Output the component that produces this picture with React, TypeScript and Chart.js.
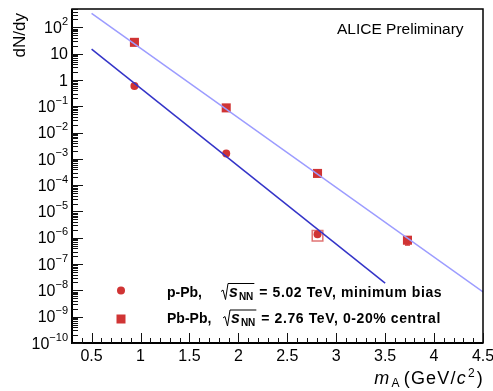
import React, { useEffect, useRef } from 'react';
import { Chart, registerables } from 'chart.js';

Chart.register(...registerables);

// ---- data ----
const particles = ['p', 'd', '3He', '4He'];
const masses = [0.938, 1.876, 2.809, 3.728];
const pPbYields = [0.59, 1.6e-3, 1.37e-6];
const pPbSysYield = [1.2e-6]; // open systematic box at 3He
const PbPbYields = [27, 0.087, 2.8e-4, 8.1e-7];
const PbPbErrLow = [null, null, null, 5.3e-7];
const fitPbPbX = [0.5, 4.5];
const fitPbPbY = [343, 8.7e-9];
const fitpPbX = [0.5, 3.5];
const fitpPbY = [14.8, 1.9e-8];
const xTickLabels = ['0.5', '1', '1.5', '2', '2.5', '3', '3.5', '4', '4.5'];
const yDecades = [-10, -9, -8, -7, -6, -5, -4, -3, -2, -1, 0, 1, 2];

const RED = '#d03434';
const FONT = '"Liberation Sans", Arial, Helvetica, sans-serif';

function drawSqrtS(ctx: CanvasRenderingContext2D, x: number, base: number) {
  ctx.save();
  ctx.font = `italic bold 16px ${FONT}`;
  const sw = ctx.measureText('s').width;
  ctx.font = `bold 10px ${FONT}`;
  const nw = ctx.measureText('NN').width;
  const top = base - 13;
  const end = x + 8 + sw + 1 + nw + 1;
  ctx.strokeStyle = '#000';
  ctx.lineWidth = 1;
  ctx.beginPath();
  ctx.moveTo(x, base - 5);
  ctx.lineTo(x + 2, base - 6.5);
  ctx.lineTo(x + 4.5, base + 3);
  ctx.lineTo(x + 7, top);
  ctx.lineTo(end, top);
  ctx.stroke();
  ctx.fillStyle = '#000';
  ctx.textAlign = 'left';
  ctx.textBaseline = 'alphabetic';
  ctx.font = `italic bold 16px ${FONT}`;
  ctx.fillText('s', x + 8, base);
  ctx.font = `bold 10px ${FONT}`;
  ctx.fillText('NN', x + 8 + sw + 1, base + 3);
  ctx.restore();
  return end;
}

const drawPlugin = {
  id: 'rootStyle',
  afterDatasetsDraw(chart: any) {
    const ctx: CanvasRenderingContext2D = chart.ctx;
    const xs = chart.scales.x;
    const ys = chart.scales.y;
    // error bars
    ctx.save();
    ctx.strokeStyle = RED;
    ctx.lineWidth = 1.5;
    PbPbErrLow.forEach((lo, i) => {
      if (lo == null) return;
      const px = xs.getPixelForValue(masses[i]);
      const py = ys.getPixelForValue(PbPbYields[i]);
      const pl = ys.getPixelForValue(lo);
      ctx.beginPath();
      ctx.moveTo(px, py);
      ctx.lineTo(px, pl);
      ctx.moveTo(px - 2.5, pl);
      ctx.lineTo(px + 2.5, pl);
      ctx.stroke();
    });
    ctx.restore();
  },
  afterDraw(chart: any) {
    const ctx: CanvasRenderingContext2D = chart.ctx;
    const { left, right, top, bottom } = chart.chartArea;
    const xs = chart.scales.x;
    const ys = chart.scales.y;
    ctx.save();
    // frame
    ctx.strokeStyle = '#000';
    ctx.lineWidth = 1.5;
    ctx.strokeRect(left, top, right - left, bottom - top);
    ctx.lineWidth = 2;
    ctx.beginPath();
    ctx.moveTo(left, top);
    ctx.lineTo(left, bottom);
    ctx.lineTo(right, bottom);
    ctx.stroke();

    // y ticks
    ctx.lineWidth = 1;
    ctx.strokeStyle = '#111';
    const ymax = ys.max;
    yDecades.forEach((d) => {
      for (let m = 1; m <= 9; m++) {
        const v = m * Math.pow(10, d);
        if (v > ymax * 1.0001) break;
        const py = Math.round(ys.getPixelForValue(v)) + 0.5;
        const len = m === 1 ? 11 : 6;
        ctx.beginPath();
        ctx.moveTo(left, py);
        ctx.lineTo(left + len, py);
        ctx.stroke();
      }
    });
    // x ticks
    const xmin = xs.min, xmax = xs.max;
    for (let k = Math.ceil(xmin * 10 + 1e-6); k <= Math.floor(xmax * 10 + 1e-6); k++) {
      const v = k / 10;
      const px = Math.round(xs.getPixelForValue(v)) + 0.5;
      const major = k % 5 === 0;
      ctx.beginPath();
      ctx.moveTo(px, bottom);
      ctx.lineTo(px, bottom - (major ? 10 : 5));
      ctx.stroke();
    }

    // x tick labels
    ctx.fillStyle = '#000';
    ctx.font = `16px ${FONT}`;
    ctx.textAlign = 'center';
    ctx.textBaseline = 'alphabetic';
    xTickLabels.forEach((t) => {
      const px = xs.getPixelForValue(parseFloat(t));
      ctx.fillText(t, px, 361);
    });

    // y tick labels
    yDecades.forEach((d) => {
      const py = ys.getPixelForValue(Math.pow(10, d));
      const rx = 68;
      ctx.textAlign = 'left';
      if (d === 0 || d === 1) {
        const s = d === 0 ? '1' : '10';
        ctx.font = `16px ${FONT}`;
        const w = ctx.measureText(s).width;
        ctx.fillText(s, rx - w, py + 5.7);
      } else {
        const exp = d < 0 ? '\u2212' + Math.abs(d) : String(d);
        ctx.font = `11px ${FONT}`;
        const ew = ctx.measureText(exp).width;
        ctx.font = `16px ${FONT}`;
        const bw = ctx.measureText('10').width;
        ctx.fillText('10', rx - ew - bw, py + 5.7);
        ctx.font = `11px ${FONT}`;
        ctx.fillText(exp, rx - ew, py - 2.5);
      }
    });

    // y title
    ctx.save();
    ctx.translate(25, 13);
    ctx.rotate(-Math.PI / 2);
    ctx.font = `17px ${FONT}`;
    ctx.textAlign = 'right';
    ctx.fillText('dN/dy', 0, 0);
    ctx.restore();

    // x title: m_A (GeV/c^2), right aligned at right edge
    {
      const base = 384.3;
      const ls = 1.2;
      const parts: { t: string; f: string; dy: number; gap: number }[] = [
        { t: 'm', f: `italic 18px ${FONT}`, dy: 0, gap: 1 },
        { t: 'A', f: `12px ${FONT}`, dy: 3, gap: 3 },
        { t: '(GeV/', f: `18px ${FONT}`, dy: 0, gap: 0 },
        { t: 'c', f: `italic 18px ${FONT}`, dy: 0, gap: 1 },
        { t: '2', f: `12px ${FONT}`, dy: -7, gap: 1 },
        { t: ')', f: `18px ${FONT}`, dy: 0, gap: 0 },
      ];
      (ctx as any).letterSpacing = `${ls}px`;
      let total = 0;
      parts.forEach((p) => { ctx.font = p.f; total += ctx.measureText(p.t).width + p.gap; });
      let x = right + 1 - total;
      ctx.textAlign = 'left';
      parts.forEach((p) => {
        ctx.font = p.f;
        ctx.fillText(p.t, x, base + p.dy);
        x += ctx.measureText(p.t).width + p.gap;
      });
      (ctx as any).letterSpacing = '0px';
    }

    // ALICE Preliminary
    ctx.font = `15.5px ${FONT}`;
    ctx.textAlign = 'left';
    ctx.fillText('ALICE Preliminary', 337, 34.3);

    // legend
    ctx.fillStyle = RED;
    ctx.beginPath();
    ctx.arc(121, 290.5, 4, 0, Math.PI * 2);
    ctx.fill();
    ctx.fillRect(116.5, 314.5, 9, 9);

    ctx.fillStyle = '#000';
    ctx.font = `bold 14px ${FONT}`;
    ctx.fillText('p-Pb,', 167, 296.5);
    let e1 = drawSqrtS(ctx, 221, 296.5);
    (ctx as any).letterSpacing = '0.6px';
    ctx.font = `bold 14px ${FONT}`;
    ctx.fillText('= 5.02 TeV, minimum bias', Math.max(e1 + 5, 252), 296.5);
    (ctx as any).letterSpacing = '0px';
    ctx.fillText('Pb-Pb,', 167, 323);
    let e2 = drawSqrtS(ctx, 223, 323);
    (ctx as any).letterSpacing = '0.6px';
    ctx.font = `bold 14px ${FONT}`;
    ctx.fillText('= 2.76 TeV, 0-20% central', Math.max(e2 + 5, 260), 323);
    (ctx as any).letterSpacing = '0px';
    ctx.restore();
  },
};

export default function App() {
  const ref = useRef<HTMLCanvasElement | null>(null);
  useEffect(() => {
    document.body.style.margin = '0';
    const canvas = ref.current;
    if (!canvas) return;
    const chart = new Chart(canvas, {
      type: 'scatter',
      data: {
        datasets: [
          {
            label: 'Pb-Pb fit',
            type: 'line',
            data: fitPbPbX.map((x, i) => ({ x, y: fitPbPbY[i] })),
            borderColor: '#9c9cff',
            borderWidth: 1.5,
            pointRadius: 0,
            fill: false,
          } as any,
          {
            label: 'p-Pb fit',
            type: 'line',
            data: fitpPbX.map((x, i) => ({ x, y: fitpPbY[i] })),
            borderColor: '#3434c8',
            borderWidth: 1.5,
            pointRadius: 0,
            fill: false,
          } as any,
          {
            label: 'p-Pb',
            data: pPbYields.map((y, i) => ({ x: masses[i], y })),
            pointStyle: 'circle',
            pointRadius: 4,
            backgroundColor: RED,
            borderWidth: 0,
          },
          {
            label: 'p-Pb syst',
            data: pPbSysYield.map((y) => ({ x: masses[2], y })),
            pointStyle: 'rect',
            pointRadius: 7.5,
            backgroundColor: 'rgba(255,255,255,0.9)',
            borderColor: 'rgba(220,90,90,0.85)',
            borderWidth: 1.5,
          },
          {
            label: 'Pb-Pb',
            data: PbPbYields.map((y, i) => ({ x: masses[i], y })),
            pointStyle: 'rect',
            pointRadius: 6.4,
            backgroundColor: RED,
            borderWidth: 0,
          },
        ],
      },
      options: {
        animation: false,
        responsive: false,
        maintainAspectRatio: false,
        layout: { padding: { left: 72, right: 10, top: 7, bottom: 48 } },
        plugins: { legend: { display: false }, tooltip: { enabled: false } },
        scales: {
          x: { type: 'linear', min: 0.3, max: 4.5, display: false },
          y: { type: 'logarithmic', min: 1e-10, max: 500, display: false },
        },
      },
      plugins: [drawPlugin],
    });
    return () => chart.destroy();
  }, []);
  return (
    <div style={{ width: 493, height: 391 }}>
      <canvas ref={ref} width={493} height={391} style={{ display: 'block' }} />
    </div>
  );
}
